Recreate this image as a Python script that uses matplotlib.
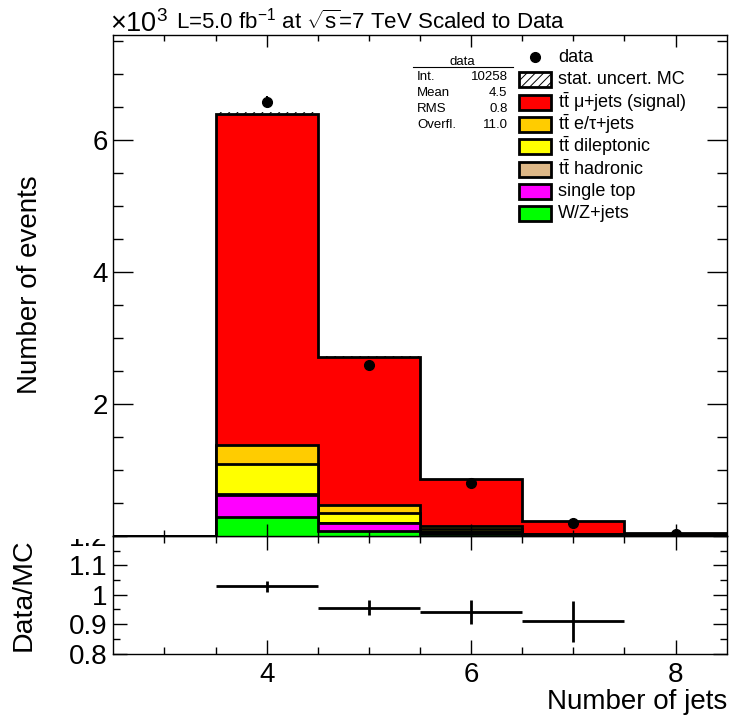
import numpy as np
import matplotlib
matplotlib.use("Agg")
import matplotlib.pyplot as plt
from matplotlib.patches import Rectangle
from matplotlib.ticker import FixedLocator, FixedFormatter

plt.rcParams['font.family'] = ['Liberation Sans', 'DejaVu Sans']
plt.rcParams['mathtext.fontset'] = 'custom'
plt.rcParams['mathtext.rm'] = 'Liberation Sans'
plt.rcParams['mathtext.it'] = 'Liberation Sans:italic'
plt.rcParams['mathtext.bf'] = 'Liberation Sans:bold'
plt.rcParams['hatch.linewidth'] = 0.7

# Jet multiplicity bins (events per bin)
edges = np.array([2.5, 3.5, 4.5, 5.5, 6.5, 7.5, 8.5])
centers = 0.5 * (edges[:-1] + edges[1:])

wz_jets = [0, 292, 80, 30, 8, 2]
single_top = [0, 329, 112, 35, 8, 2]
tt_hadronic = [0, 8, 4, 2, 1, 0]
tt_dilepton = [0, 457, 148, 45, 8, 3]
tt_etau = [0, 293, 131, 38, 5, 3]
tt_signal = [0, 5021, 2235, 709, 190, 40]
mc_stat_err = [0, 22, 14, 8, 4, 2]

data = [0, 6580, 2590, 808, 200, 25]
ratio_err = [0, 0.018, 0.025, 0.041, 0.07, 0.1]

# stacking order from bottom to top
components = [
    (wz_jets, '#00ff00', 'W/Z+jets'),
    (single_top, '#ff00ff', 'single top'),
    (tt_hadronic, '#deb887', r'$\mathrm{t\bar{t}}$ hadronic'),
    (tt_dilepton, '#ffff00', r'$\mathrm{t\bar{t}}$ dileptonic'),
    (tt_etau, '#ffcc00', r'$\mathrm{t\bar{t}}$ e/τ+jets'),
    (tt_signal, '#ff0000', r'$\mathrm{t\bar{t}}$ μ+jets (signal)'),
]

W, H = 729, 719
fig = plt.figure(figsize=(W / 100, H / 100), dpi=100)

def frac(x0, y_top, x1, y_bot):
    return [x0 / W, 1 - y_bot / H, (x1 - x0) / W, (y_bot - y_top) / H]

ax_r = fig.add_axes(frac(113.3, 536, 726.7, 653.5), zorder=0)
ax = fig.add_axes(frac(113.3, 35, 726.7, 536), zorder=2)

# stacked histograms, drawn from the full stack downwards
cum = np.cumsum([np.array(c[0], float) for c in components], axis=0) / 1000.0
for i in range(len(components) - 1, -1, -1):
    ax.stairs(cum[i], edges, fill=True, facecolor=components[i][1],
              edgecolor='black', linewidth=2.0, baseline=0)

total = cum[-1]
err = np.array(mc_stat_err) / 1000.0
ax.bar(centers, 2 * err, width=1.0, bottom=total - err, facecolor='none',
       edgecolor='black', linewidth=0, hatch='////')

data = np.array(data, float)
sel = data > 0
ax.errorbar(centers[sel], data[sel] / 1000.0, yerr=np.sqrt(data[sel]) / 1000.0,
            fmt='o', color='black', ms=7, elinewidth=1.5, capsize=0, zorder=5)

ax.set_xlim(2.5, 8.5)
ax.set_ylim(0, 7.59)
ax.xaxis.set_major_locator(FixedLocator([4, 6, 8]))
ax.xaxis.set_minor_locator(FixedLocator(np.arange(3.0, 8.5, 0.5)))
ax.yaxis.set_major_locator(FixedLocator([2, 4, 6]))
ax.yaxis.set_minor_locator(FixedLocator(np.arange(0.5, 7.6, 0.5)))
ax.tick_params(axis='x', which='both', direction='in', top=True, labelbottom=False)
ax.tick_params(axis='x', which='major', length=8.6, width=1)
ax.tick_params(axis='x', which='minor', length=4.3, width=1)
ax.tick_params(axis='y', which='both', direction='in', right=True, labelsize=20, pad=4)
ax.tick_params(axis='y', which='major', length=14.4, width=1)
ax.tick_params(axis='y', which='minor', length=7.2, width=1)
for s in ax.spines.values():
    s.set_linewidth(1)

# ratio panel
mc_tot = total * 1000.0
ok = mc_tot > 0
ratio = data[ok] / mc_tot[ok]
ax_r.errorbar(centers[ok], ratio, xerr=0.5, yerr=np.array(ratio_err)[ok],
              fmt='none', ecolor='black', elinewidth=2.0, capsize=0)
ax_r.set_xlim(2.5, 8.5)
ax_r.set_ylim(0.8, 1.2)
ax_r.xaxis.set_major_locator(FixedLocator([4, 6, 8]))
ax_r.xaxis.set_minor_locator(FixedLocator(np.arange(3.0, 8.5, 0.5)))
ax_r.yaxis.set_major_locator(FixedLocator([0.8, 0.9, 1.0, 1.1, 1.2]))
ax_r.yaxis.set_major_formatter(FixedFormatter(['0.8', '0.9', '1', '1.1', '1.2']))
ax_r.yaxis.set_minor_locator(FixedLocator([0.85, 0.95, 1.05, 1.15]))
ax_r.tick_params(axis='both', which='both', direction='in', top=True, right=True,
                 labelsize=20, width=1)
ax_r.tick_params(axis='x', pad=6)
ax_r.tick_params(axis='y', pad=4)
ax_r.tick_params(which='major', length=10)
ax_r.tick_params(which='minor', length=5)
for s in ax_r.spines.values():
    s.set_linewidth(1)

# overlay in pixel coordinates for labels, legend and stats box
ov = fig.add_axes([0, 0, 1, 1], zorder=5)
ov.set_xlim(0, W)
ov.set_ylim(H, 0)
ov.axis('off')
ov.patch.set_alpha(0)

ov.add_patch(Rectangle((40, 480), 71, 59, facecolor='white', edgecolor='none'))

ov.text(30, 285, 'Number of events', rotation=90, ha='center', va='center', fontsize=20)
ov.text(24, 595, 'Data/MC', rotation=90, ha='center', va='center', fontsize=20.5)
ov.text(727, 709, 'Number of jets', ha='right', va='baseline', fontsize=20)

ov.text(110, 32, r'×10$^{3}$', ha='left', va='baseline', fontsize=19.5)
ov.text(176, 28.5, r'L=5.0 fb$^{-1}$ at $\sqrt{\mathrm{s}}$=7 TeV Scaled to Data',
        ha='left', va='baseline', fontsize=16)

# statistics box
ov.text(462, 65, 'data', ha='center', va='baseline', fontsize=9.5)
ov.plot([412.7, 512.7], [66.7, 66.7], color='black', lw=0.8)
stat_names = ['Int.', 'Mean', 'RMS', 'Overfl.']
stat_vals = ['10258', '4.5', '0.8', '11.0']
for k, (n, v) in enumerate(zip(stat_names, stat_vals)):
    yb = 79.5 + 16.2 * k
    ov.text(417, yb, n, ha='left', va='baseline', fontsize=9.5)
    ov.text(507.5, yb, v, ha='right', va='baseline', fontsize=9.5)

# legend
row0, step = 57.3, 22.35
ov.plot([535], [row0], 'o', color='black', ms=7)
ov.text(558, row0, 'data', ha='left', va='center', fontsize=13)
entries = [('stat. uncert. MC', 'white', '////')]
entries += [(lab, col, None) for _, col, lab in components[::-1]]
for k, (lab, col, hat) in enumerate(entries):
    yc = row0 + step * (k + 1)
    ov.add_patch(Rectangle((519, yc - 7.5), 32, 15, facecolor=col, edgecolor='black',
                           linewidth=2.0, hatch=hat))
    ov.text(558, yc, lab, ha='left', va='center', fontsize=13)

fig.savefig('out.png', dpi=100)
